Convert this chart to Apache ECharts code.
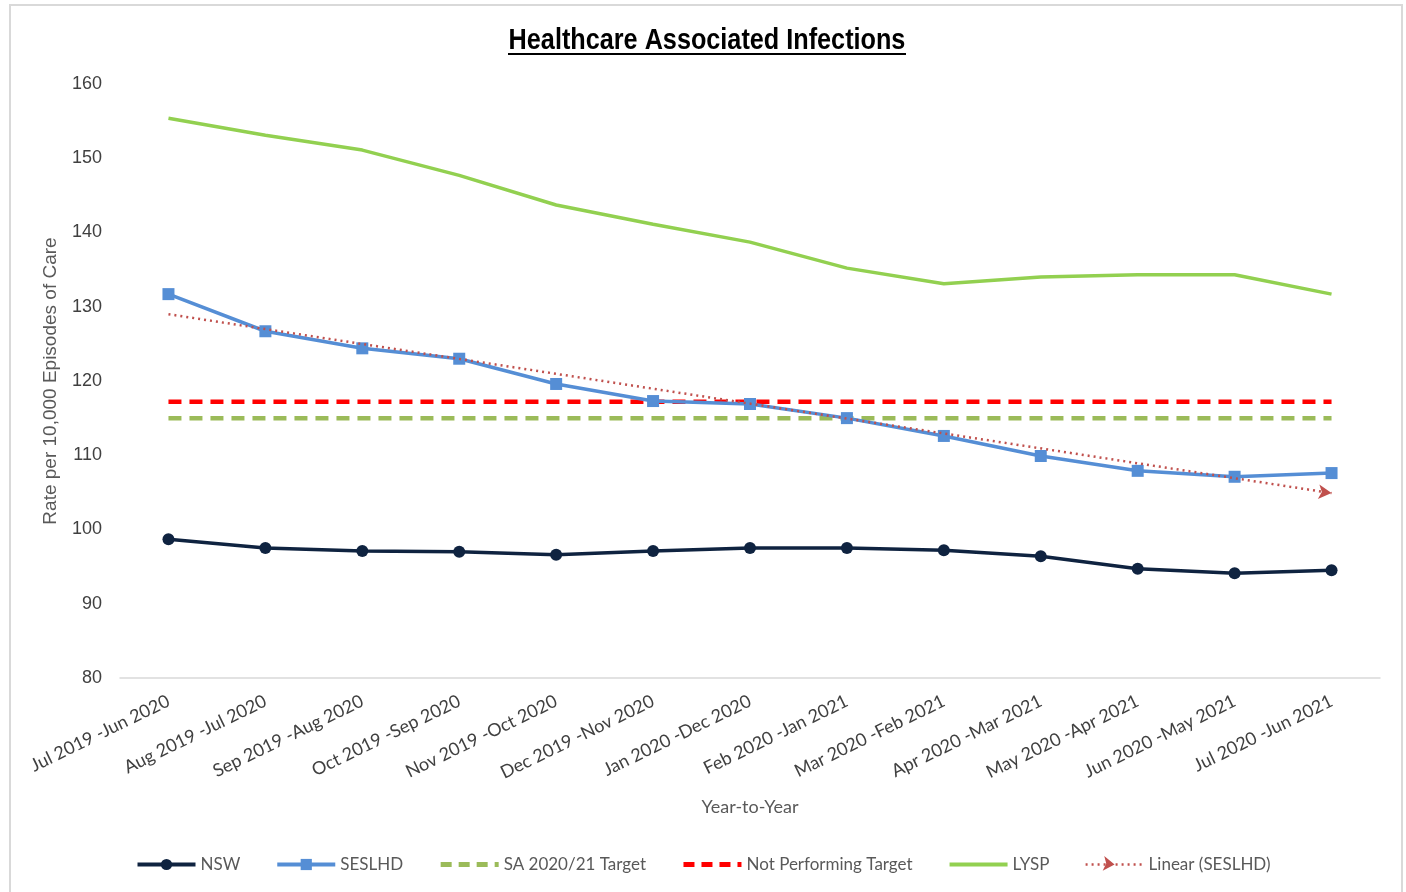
<!DOCTYPE html>
<html>
<head>
<meta charset="utf-8">
<script src="https://cdn.jsdelivr.net/npm/echarts@6/dist/echarts.min.js"></script>
<style>
html,body{margin:0;padding:0;background:#fff;}
#chart{width:1406px;height:892px;}
</style>
</head>
<body>
<div id="chart"></div>
<script>
const categories = ["Jul 2019 -Jun 2020","Aug 2019 -Jul 2020","Sep 2019 -Aug 2020","Oct 2019 -Sep 2020","Nov 2019 -Oct 2020","Dec 2019 -Nov 2020","Jan 2020 -Dec 2020","Feb 2020 -Jan 2021","Mar 2020 -Feb 2021","Apr 2020 -Mar 2021","May 2020 -Apr 2021","Jun 2020 -May 2021","Jul 2020 -Jun 2021"];
const nsw = [98.7,97.5,97.1,97.0,96.6,97.1,97.5,97.5,97.2,96.4,94.7,94.1,94.5];
const seslhd = [131.7,126.7,124.4,123.0,119.6,117.3,116.9,115.0,112.6,109.9,107.9,107.1,107.6];
const saTarget = [115,115,115,115,115,115,115,115,115,115,115,115,115];
const notPerforming = [117.2,117.2,117.2,117.2,117.2,117.2,117.2,117.2,117.2,117.2,117.2,117.2,117.2];
const lysp = [155.4,153.1,151.1,147.7,143.7,141.1,138.7,135.2,133.1,134.0,134.3,134.3,131.7];
const trendStart = 129.0;
const trendEnd = 104.9;

const arialish = '"Liberation Sans",Arial,sans-serif';
const calib = 'Lato, "Open Sans", sans-serif';

const chart = echarts.init(document.getElementById('chart'), null, {renderer:'canvas'});
chart.setOption({
  animation:false,
  backgroundColor:'#fff',
  graphic:[
    {type:'rect', shape:{x:10,y:5,width:1392,height:900}, style:{fill:null, stroke:'#d9d9d9', lineWidth:2}, silent:true},
    {type:'text', x:707, y:41, scaleX:0.87, silent:true,
      style:{text:'Healthcare Associated Infections', font:'bold 29px "Liberation Sans", Arial, sans-serif', fill:'#000', align:'center', verticalAlign:'middle'}},
    {type:'line', shape:{x1:508,y1:54,x2:906,y2:54}, style:{stroke:'#000', lineWidth:2}, silent:true}
  ],
  grid:{left:120, right:26, top:84, bottom:214},
  legend:{
    bottom:14, left:'center',
    itemWidth:58, itemHeight:14, itemGap:35,
    textStyle:{fontFamily:calib, fontSize:17, color:'#595959'},
    data:[
      {name:'NSW', lineStyle:{width:4}},
      {name:'SESLHD', lineStyle:{width:4}},
      {name:'SA 2020/21 Target', itemStyle:{opacity:0}, lineStyle:{width:5, type:[11,7]}},
      {name:'Not Performing Target', itemStyle:{opacity:0}, lineStyle:{width:5, type:[11,7]}},
      {name:'LYSP', itemStyle:{opacity:0}, lineStyle:{width:4}},
      {name:'Linear (SESLHD)', lineStyle:{width:2.5}}
    ]
  },
  xAxis:{
    type:'category', data:categories, boundaryGap:true,
    name:'Year-to-Year', nameLocation:'middle', nameGap:120,
    nameTextStyle:{fontFamily:calib, fontSize:18, color:'#595959'},
    axisLine:{lineStyle:{color:'#d9d9d9', width:1.5}},
    axisTick:{show:false},
    axisLabel:{rotate:26, interval:0, margin:22, fontFamily:calib, fontSize:18, color:'#404040'}
  },
  yAxis:{
    type:'value', min:80, max:160, interval:10,
    name:'Rate per 10,000 Episodes of Care', nameLocation:'middle', nameGap:60,
    nameTextStyle:{fontFamily:arialish, fontSize:19, color:'#595959'},
    axisLine:{show:false}, axisTick:{show:false},
    splitLine:{show:false},
    axisLabel:{fontFamily:arialish, fontSize:18, color:'#404040', margin:18}
  },
  series:[
    {name:'SA 2020/21 Target', type:'line', data:saTarget, symbol:'none', z:2,
      lineStyle:{color:'#9bbb59', width:4.5, type:[13,8]}, itemStyle:{color:'#9bbb59'}},
    {name:'Not Performing Target', type:'line', data:notPerforming, symbol:'none', z:3,
      lineStyle:{color:'#ff0000', width:4.5, type:[13,8]}, itemStyle:{color:'#ff0000'}},
    {name:'LYSP', type:'line', data:lysp, symbol:'none', z:2,
      lineStyle:{color:'#92d050', width:3.5}, itemStyle:{color:'#92d050'}},
    {name:'NSW', type:'line', data:nsw, symbol:'circle', symbolSize:12, z:4,
      lineStyle:{color:'#0f2340', width:3.5}, itemStyle:{color:'#0f2340'}},
    {name:'SESLHD', type:'line', data:seslhd, symbol:'rect', symbolSize:12, z:4,
      lineStyle:{color:'#558ed5', width:3.5}, itemStyle:{color:'#558ed5'}},
    {name:'Linear (SESLHD)', type:'line', z:5,
      symbol:'arrow', symbolSize:[11,13], symbolRotate:-96,
      data:[{value:[0,trendStart], symbol:'none'},{value:[12,trendEnd]}],
      lineStyle:{color:'#c0504d', width:2.5, type:[2,4]}, itemStyle:{color:'#c0504d'}}
  ]
});
</script>
</body>
</html>
